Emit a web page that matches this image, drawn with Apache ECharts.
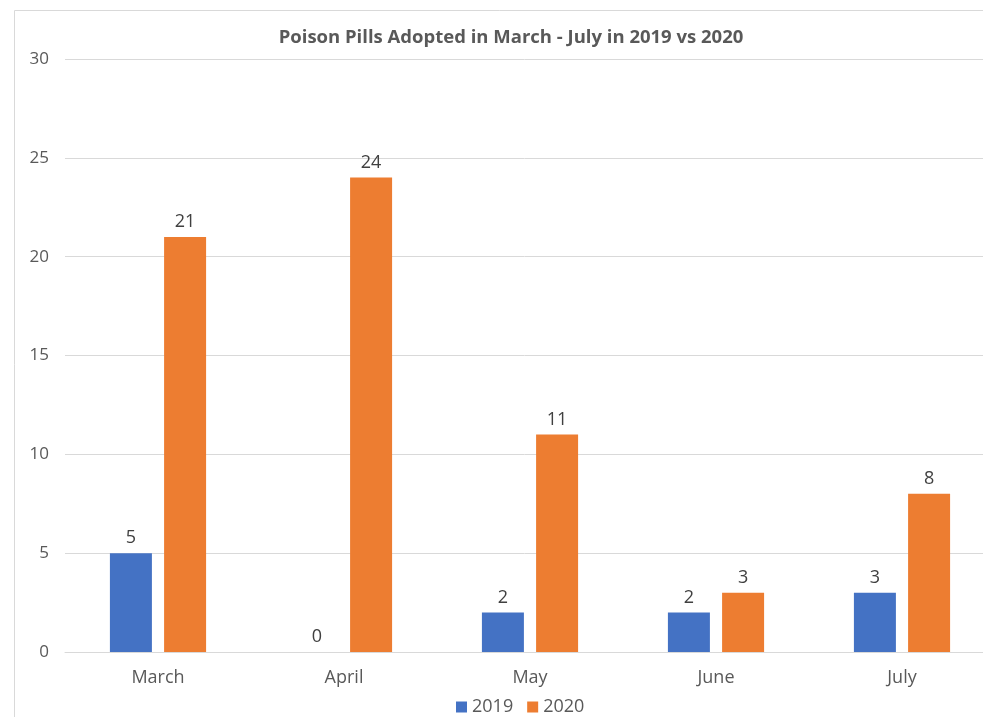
<!DOCTYPE html>
<html>
<head>
<meta charset="utf-8">
<script src="https://cdn.jsdelivr.net/npm/echarts@6/dist/echarts.min.js"></script>
<style>
html,body{margin:0;padding:0;background:#fff;}
#chart{width:983px;height:717px;}
</style>
</head>
<body>
<div id="chart"></div>
<script>
var categories = ['March', 'April', 'May', 'June', 'July'];
var series2019 = [5, 0, 2, 2, 3];
var series2020 = [21, 24, 11, 3, 8];
var yTicks = [0, 5, 10, 15, 20, 25, 30];

var chart = echarts.init(document.getElementById('chart'));
var font = '"Open Sans", "Noto Sans", sans-serif';
var labelStyle = { show: true, position: 'top', color: '#404040', fontSize: 18, fontFamily: font, distance: 6 };
chart.setOption({
  animation: false,
  textStyle: { fontFamily: font },
  graphic: [{
    type: 'rect', silent: true,
    shape: { x: 14.5, y: 10.5, width: 1000, height: 740 },
    style: { fill: 'none', stroke: '#d9d9d9', lineWidth: 1 }
  }],
  title: {
    text: 'Poison Pills Adopted in March - July in 2019 vs 2020',
    left: 506, top: 23, textAlign: 'center',
    textStyle: { color: '#595959', fontSize: 18.5, fontWeight: 'bold', fontFamily: font }
  },
  legend: {
    bottom: -4, left: 451, itemWidth: 11, itemHeight: 11, itemGap: 14,
    icon: 'rect',
    textStyle: { color: '#595959', fontSize: 18, fontFamily: font },
    data: ['2019', '2020']
  },
  grid: { left: 65, right: -12, top: 59, bottom: 65, containLabel: false, outerBoundsMode: 'none' },
  xAxis: {
    type: 'category', data: categories,
    axisLine: { lineStyle: { color: '#d9d9d9' } },
    axisTick: { show: false },
    axisLabel: { color: '#595959', fontSize: 18, fontFamily: font, margin: 17 }
  },
  yAxis: {
    type: 'value', min: yTicks[0], max: yTicks[yTicks.length - 1], interval: 5,
    axisLine: { show: false }, axisTick: { show: false },
    splitLine: { lineStyle: { color: '#d9d9d9' } },
    axisLabel: { color: '#595959', fontSize: 17, fontFamily: font, margin: 16 }
  },
  series: [
    { name: '2019', type: 'bar', data: series2019, barWidth: 42, barGap: '29%',
      itemStyle: { color: '#4472c4' }, label: labelStyle },
    { name: '2020', type: 'bar', data: series2020, barWidth: 42,
      itemStyle: { color: '#ed7d31' }, label: labelStyle }
  ]
});
</script>
</body>
</html>
